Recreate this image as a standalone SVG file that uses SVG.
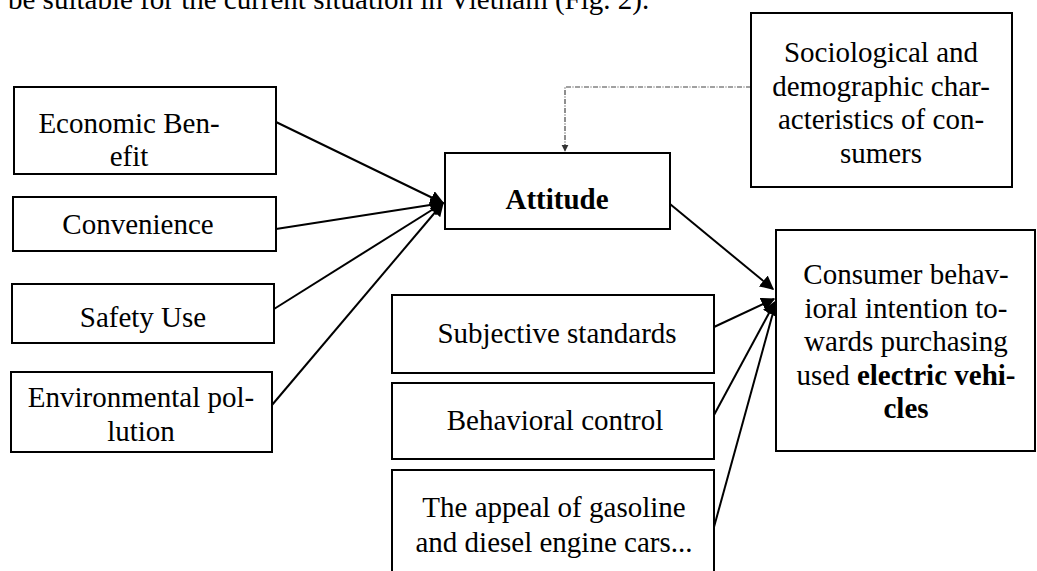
<svg xmlns="http://www.w3.org/2000/svg" width="1037" height="571" viewBox="0 0 1037 571">
<style>
  .box { fill: #ffffff; stroke: #000000; stroke-width: 2; }
  .t { font-family: "Liberation Serif", "Times New Roman", serif; font-size: 29px; fill: #000000; text-anchor: middle; }
  .b { font-weight: bold; }
  .ln { fill: none; stroke: #000000; stroke-width: 2; }
  .dot { fill: none; stroke: #444444; stroke-width: 1.2; stroke-dasharray: 5 1.5 1 1.5; }
</style>
<defs>
  <marker id="ah" viewBox="0 0 10 10" refX="9" refY="5" markerWidth="7" markerHeight="7" markerUnits="strokeWidth" orient="auto">
    <path d="M0,0 L10,5 L0,10 z" fill="#000000"/>
  </marker>
  <marker id="ahs" viewBox="0 0 10 10" refX="9" refY="5" markerWidth="6" markerHeight="6" markerUnits="strokeWidth" orient="auto">
    <path d="M0,0 L10,5 L0,10 z" fill="#333333"/>
  </marker>
</defs>

<text class="t" x="8" y="9" style="text-anchor:start">be suitable for the current situation in Vietnam (Fig. 2).</text>

<g id="connectors">
  <line class="ln" x1="276" y1="122" x2="443" y2="203" marker-end="url(#ah)"/>
  <line class="ln" x1="276" y1="229" x2="443" y2="203" marker-end="url(#ah)"/>
  <line class="ln" x1="274" y1="309" x2="443" y2="203" marker-end="url(#ah)"/>
  <line class="ln" x1="272" y1="405" x2="443" y2="203" marker-end="url(#ah)"/>
  <line class="ln" x1="670" y1="204" x2="773" y2="289" marker-end="url(#ah)"/>
  <line class="ln" x1="714" y1="327" x2="774" y2="299" marker-end="url(#ah)"/>
  <line class="ln" x1="714" y1="415" x2="775" y2="302" marker-end="url(#ah)"/>
  <line class="ln" x1="714" y1="527" x2="776" y2="302" marker-end="url(#ah)"/>
  <polyline class="dot" points="751,87 565,87 565,151" marker-end="url(#ahs)"/>
</g>

<g id="economic">
  <rect class="box" x="14" y="87" width="262" height="87"/>
  <text class="t" x="129" y="133">Economic Ben-</text>
  <text class="t" x="129" y="166">efit</text>
</g>
<g id="convenience">
  <rect class="box" x="13" y="197" width="263" height="54"/>
  <text class="t" x="138" y="234">Convenience</text>
</g>
<g id="safety">
  <rect class="box" x="12" y="284" width="262" height="59"/>
  <text class="t" x="143" y="327">Safety Use</text>
</g>
<g id="environment">
  <rect class="box" x="11" y="372" width="261" height="80"/>
  <text class="t" x="141" y="407">Environmental pol-</text>
  <text class="t" x="141" y="441">lution</text>
</g>
<g id="attitude">
  <rect class="box" x="445" y="153" width="225" height="76"/>
  <text class="t b" x="557" y="209">Attitude</text>
</g>
<g id="sociological">
  <rect class="box" x="751" y="13" width="261" height="174"/>
  <text class="t" x="881" y="62">Sociological and</text>
  <text class="t" x="881" y="95.5">demographic char-</text>
  <text class="t" x="881" y="129">acteristics of con-</text>
  <text class="t" x="881" y="162.5">sumers</text>
</g>
<g id="intention">
  <rect class="box" x="776" y="230" width="259" height="221"/>
  <text class="t" x="906" y="284">Consumer behav-</text>
  <text class="t" x="906" y="317.5">ioral intention to-</text>
  <text class="t" x="906" y="351">wards purchasing</text>
  <text class="t" x="906" y="384.5">used <tspan class="b">electric vehi-</tspan></text>
  <text class="t b" x="906" y="418">cles</text>
</g>
<g id="subjective">
  <rect class="box" x="392" y="295" width="322" height="78"/>
  <text class="t" x="557" y="343">Subjective standards</text>
</g>
<g id="control">
  <rect class="box" x="392" y="383" width="322" height="76"/>
  <text class="t" x="555" y="430">Behavioral control</text>
</g>
<g id="appeal">
  <rect class="box" x="392" y="470" width="322" height="120"/>
  <text class="t" x="554" y="517">The appeal of gasoline</text>
  <text class="t" x="554" y="552">and diesel engine cars...</text>
</g>
</svg>
